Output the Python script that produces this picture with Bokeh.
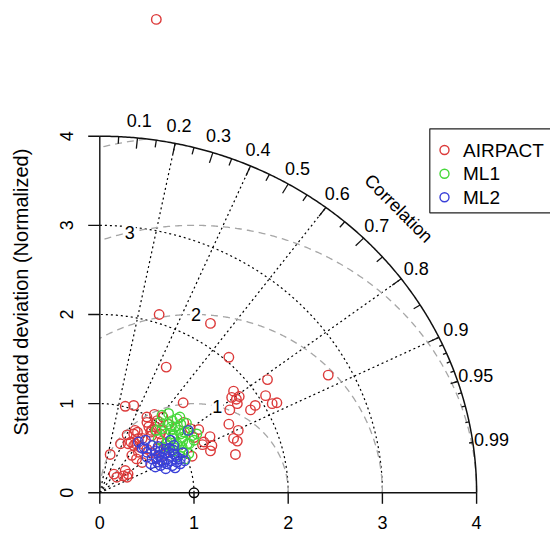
import numpy as np
from bokeh.plotting import figure
from bokeh.models import Range1d
from bokeh.embed import file_html
from bokeh.resources import INLINE
from bokeh.core.properties import value

# Normalized Taylor-diagram coordinates of each site: x = sd*r, y = sd*sqrt(1-r^2)
airpact_x = [0.60, 0.63, 1.175, 1.37, 0.705, 0.885, 0.27, 0.36, 1.78, 2.425,
             1.42, 1.40, 1.45, 1.48, 1.46, 1.76, 1.65, 1.60, 1.83, 1.88,
             1.38, 1.37, 1.47, 1.42, 1.46, 1.44, 1.05, 0.89, 1.17, 1.105,
             1.09, 1.19, 1.175, 0.98, 1.00, 0.96, 0.11, 0.22, 0.30, 0.29,
             0.375, 0.36, 0.40, 0.15, 0.18, 0.27, 0.25, 0.30, 0.29, 0.50,
             0.58, 0.67, 0.61, 0.73, 0.50, 0.52, 0.55, 0.59, 0.66, 0.54,
             0.41, 0.45, 0.33, 0.38, 0.43, 0.36, 0.34, 0.41, 0.39, 0.45,
             0.50, 0.55, 0.59, 0.64, 0.55, 0.62, 0.68, 0.60, 0.70, 0.66]
airpact_y = [5.31, 2.00, 1.90, 1.52, 1.41, 1.01, 0.97, 0.98, 1.27, 1.32,
             1.14, 1.07, 1.05, 1.08, 1.00, 1.09, 0.98, 0.93, 1.00, 1.01,
             0.93, 0.77, 0.70, 0.61, 0.58, 0.43, 0.71, 0.79, 0.63, 0.57,
             0.54, 0.53, 0.47, 0.41, 0.62, 0.72, 0.43, 0.55, 0.55, 0.65,
             0.70, 0.66, 0.68, 0.21, 0.175, 0.25, 0.19, 0.21, 0.175, 0.85,
             0.88, 0.85, 0.81, 0.77, 0.79, 0.74, 0.70, 0.74, 0.70, 0.68,
             0.61, 0.61, 0.57, 0.55, 0.51, 0.53, 0.42, 0.455, 0.38, 0.34,
             0.49, 0.64, 0.70, 0.66, 0.45, 0.50, 0.42, 0.38, 0.55, 0.58]

ml1_x = [0.66, 0.73, 0.64, 0.72, 0.77, 0.82, 0.86, 0.80, 0.75, 0.70,
         0.86, 0.93, 0.98, 1.00, 0.93, 0.875, 0.82, 0.77, 0.89, 0.945,
         0.84, 0.79, 0.73, 0.68, 0.91, 0.62, 0.66, 0.87, 0.90, 0.78,
         0.84, 0.95, 0.72, 0.80, 0.88, 0.76, 0.92, 1.03, 0.60, 0.85]
ml1_y = [0.87, 0.89, 0.79, 0.77, 0.81, 0.83, 0.77, 0.74, 0.70, 0.66,
         0.66, 0.70, 0.64, 0.59, 0.55, 0.51, 0.55, 0.61, 0.455, 0.44,
         0.42, 0.47, 0.53, 0.51, 0.38, 0.60, 0.72, 0.62, 0.68, 0.66,
         0.70, 0.55, 0.56, 0.50, 0.58, 0.74, 0.78, 0.66, 0.70, 0.85]

ml2_x = [0.41, 0.485, 0.47, 0.50, 0.555, 0.59, 0.625, 0.66, 0.715, 0.77,
         0.82, 0.855, 0.80, 0.735, 0.68, 0.61, 0.555, 0.54, 0.785, 0.75,
         0.785, 0.94, 0.855, 0.70, 0.645, 0.59, 0.66, 0.72, 0.76, 0.70,
         0.64, 0.82, 0.88, 0.74, 0.60, 0.68, 0.80, 0.50, 0.45, 0.90,
         0.78, 0.62]
ml2_y = [0.57, 0.59, 0.51, 0.455, 0.53, 0.47, 0.42, 0.36, 0.325, 0.305,
         0.345, 0.38, 0.42, 0.455, 0.49, 0.345, 0.38, 0.325, 0.53, 0.59,
         0.435, 0.70, 0.325, 0.27, 0.305, 0.29, 0.40, 0.38, 0.36, 0.44,
         0.46, 0.40, 0.45, 0.50, 0.40, 0.34, 0.28, 0.40, 0.50, 0.36,
         0.48, 0.52]

series_names = ["AIRPACT", "ML1", "ML2"]
series_colors = ["#DC3A3A", "#46D83A", "#3A40D8"]

ref_sd = 1.0
max_sd = 4.0
sd_ticks = [0, 1, 2, 3, 4]
sd_arcs = [1, 2, 3]
rms_arcs = [1, 2, 3, 4]
cor_big = [0.1, 0.2, 0.3, 0.4, 0.5, 0.6, 0.7, 0.8, 0.9]
cor_mid = [0.05, 0.15, 0.25, 0.35, 0.45, 0.55, 0.65, 0.75, 0.85, 0.95]
cor_small = [0.91, 0.92, 0.93, 0.94, 0.95, 0.96, 0.97, 0.98, 0.99]
cor_labels = cor_big + [0.95, 0.99]
cor_grid = [0.2, 0.4, 0.6, 0.8, 0.9]

FONT = "Liberation Sans"

# canvas geometry: pixel position of the origin and pixels per unit
W, H = 550, 535
OX, OY = 99.3, 492.3
KX, KY = 94.2, 89.15


def dx(px):
    return (px - OX) / KX


def dy(py):
    return (OY - py) / KY


p = figure(width=W, height=H, x_range=Range1d(dx(0), dx(W)), y_range=Range1d(dy(H), dy(0)),
           output_backend="svg", toolbar_location=None, x_axis_location=None,
           y_axis_location=None, min_border=0, outline_line_color=None)
p.grid.visible = False
p.background_fill_color = "white"
p.border_fill_color = "white"

# standard-deviation arcs (dotted)
t = np.linspace(0, np.pi / 2, 300)
for r in sd_arcs:
    p.line(r * np.cos(t), r * np.sin(t), line_color="black", line_dash="2 3", line_width=1.2)

# correlation rays
for c in cor_grid:
    p.line([0, max_sd * c], [0, max_sd * np.sqrt(1 - c * c)], line_color="black",
           line_dash="2 3", line_width=1.2)

# centred RMS difference arcs around the reference point
tt = np.linspace(0, np.pi, 600)
for g in rms_arcs:
    gx = ref_sd + g * np.cos(tt)
    gy = g * np.sin(tt)
    keep = (gx >= 0) & (gx * gx + gy * gy <= max_sd ** 2)
    p.line(gx[keep], gy[keep], line_color="#A6A6A6", line_dash="7 5", line_width=1.3)

# outer boundary
p.line(max_sd * np.cos(t), max_sd * np.sin(t), line_color="#111111", line_width=1.5)

# RMS labels on boxed white patches
labelpos = np.floor(np.linspace(45, 70, len(rms_arcs)))
for g, lp in zip(rms_arcs, labelpos):
    ang = 0.03 * (lp - 1)
    lx = ref_sd + g * np.cos(ang)
    ly = g * np.sin(ang)
    if lx > 0:
        p.text([lx], [ly], text=[str(g)], text_font=value(FONT), text_font_size="18px",
               text_align="center", text_baseline="middle", text_color="black",
               background_fill_color="white", padding=1)

# correlation ticks on the outer arc
for vals, frac in ((cor_big, 0.97), (cor_mid, 0.98), (cor_small, 0.99)):
    a = np.arccos(np.array(vals))
    p.segment(max_sd * np.cos(a), max_sd * np.sin(a), frac * max_sd * np.cos(a),
              frac * max_sd * np.sin(a), line_color="#111111", line_width=1.3)

a = np.arccos(np.array(cor_labels))
p.text(1.05 * max_sd * np.cos(a), 1.05 * max_sd * np.sin(a),
       text=[("%g" % c) for c in cor_labels], text_font=value(FONT), text_font_size="18px",
       text_align="center", text_baseline="middle", text_color="black")

p.text([dx(398)], [dy(208)], text=["Correlation"], angle=-np.pi / 4,
       text_font=value(FONT), text_font_size="18px", text_align="center",
       text_baseline="middle", text_color="black")

# axes
tick_x = 11.6 / KX
tick_y = 11.0 / KY
p.segment([0, 0], [0, 0], [max_sd, 0], [0, max_sd], line_color="#111111", line_width=1.4)
p.segment(sd_ticks, [0] * len(sd_ticks), sd_ticks, [-tick_y] * len(sd_ticks),
          line_color="#111111", line_width=1.4)
p.segment([0] * len(sd_ticks), sd_ticks, [-tick_x] * len(sd_ticks), sd_ticks,
          line_color="#111111", line_width=1.4)
p.text(sd_ticks, [dy(522)] * len(sd_ticks), text=[str(v) for v in sd_ticks],
       text_font=value(FONT), text_font_size="18px", text_align="center",
       text_baseline="middle", text_color="black")
p.text([dx(66)] * len(sd_ticks), sd_ticks, text=[str(v) for v in sd_ticks], angle=np.pi / 2,
       text_font=value(FONT), text_font_size="18px", text_align="center",
       text_baseline="middle", text_color="black")
p.text([dx(20)], [dy(291.5)], text=["Standard deviation (Normalized)"], angle=np.pi / 2,
       text_font=value(FONT), text_font_size="20px", text_align="center",
       text_baseline="middle", text_color="black")

# model/site points and the reference point
for xs, ys, col in ((airpact_x, airpact_y, series_colors[0]),
                    (ml1_x, ml1_y, series_colors[1]),
                    (ml2_x, ml2_y, series_colors[2])):
    p.scatter(xs, ys, marker="circle", size=9.5, fill_color=None, line_color=col,
              line_width=1.4)
p.scatter([ref_sd], [0], marker="circle", size=9.5, fill_color=None, line_color="black",
          line_width=1.4)

# legend box
p.quad(left=[dx(429.3)], right=[dx(553)], top=[dy(128.3)], bottom=[dy(212.3)],
       fill_color="white", line_color="#222222", line_width=1.2)
rows = [149.5, 173.3, 196.7]
p.scatter([dx(444)] * 3, [dy(r) for r in rows], marker="circle", size=9, fill_color=None,
          line_color=series_colors, line_width=1.4)
p.text([dx(462.5)] * 3, [dy(r) for r in rows], text=series_names, text_font=value(FONT),
       text_font_size="19px", text_align="left", text_baseline="middle", text_color="black")

open("out.html", "w").write(file_html(p, INLINE))
